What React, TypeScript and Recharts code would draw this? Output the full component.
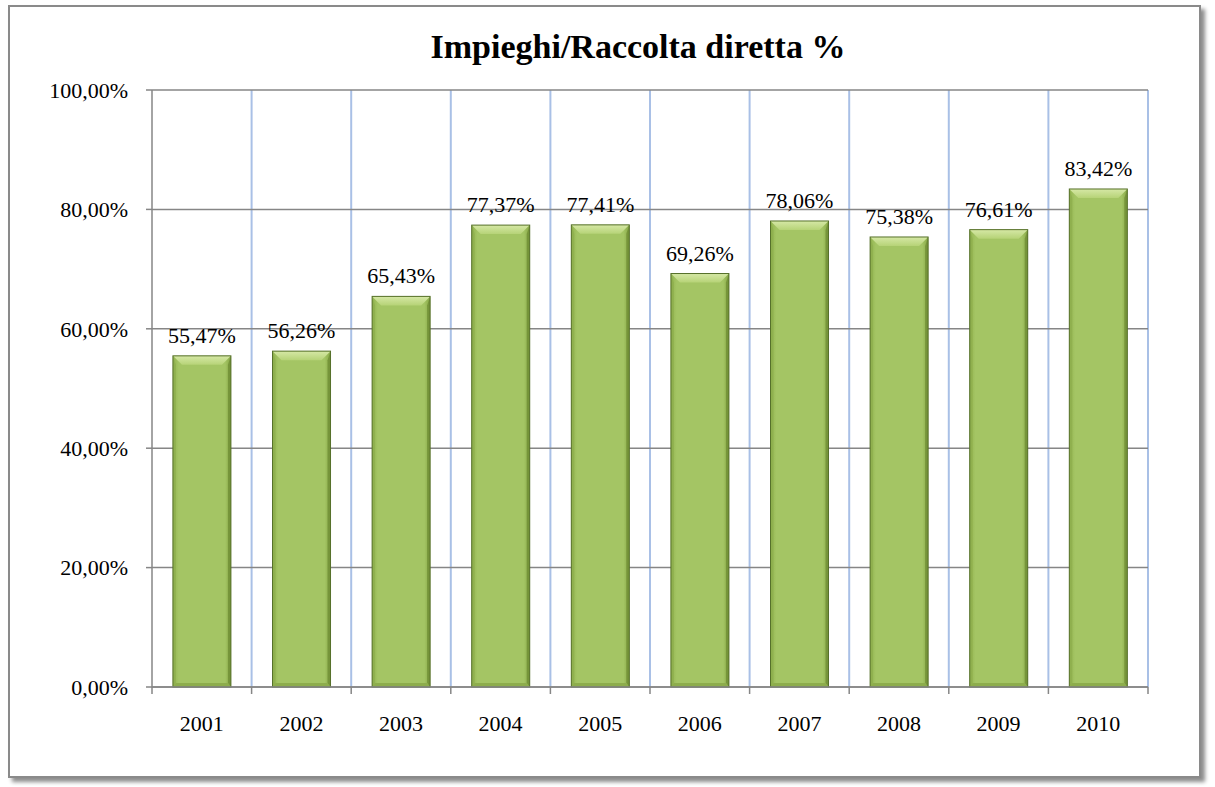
import { BarChart, Bar, XAxis, YAxis, CartesianGrid, LabelList } from "recharts";

const years = ["2001", "2002", "2003", "2004", "2005", "2006", "2007", "2008", "2009", "2010"];
const ratios = [55.47, 56.26, 65.43, 77.37, 77.41, 69.26, 78.06, 75.38, 76.61, 83.42];
const yTicks = [0, 20, 40, 60, 80, 100];

const data = years.map((year, i) => ({ year, value: ratios[i] }));

const FONT = "'Liberation Serif', 'Times New Roman', serif";
const AXIS_GRAY = "#868686";
const GRID_BLUE = "#A9C0E6";

const fmt = (v: number) => v.toFixed(2).replace(".", ",") + "%";

// bevelled bar like the office 3d style
function BevelBar(props: any) {
  const { x, y, width: w, height: h } = props;
  if (!h || h <= 0) return null;
  const b = Math.min(9, h / 2);
  const s = 3;
  return (
    <g>
      <rect x={x} y={y} width={w} height={h} fill="url(#barFace)" />
      <polygon points={`${x},${y} ${x + w},${y} ${x + w - b},${y + b} ${x + b},${y + b}`} fill="url(#barTop)" />
      <polygon points={`${x},${y} ${x + s},${y + b} ${x + s},${y + h - 4} ${x},${y + h}`} fill="#8CAD4B" opacity={0.7} />
      <polygon points={`${x + w},${y} ${x + w - s},${y + b} ${x + w - s},${y + h - 4} ${x + w},${y + h}`} fill="#6F8D34" opacity={0.8} />
      <polygon points={`${x},${y + h} ${x + s},${y + h - 4} ${x + w - s},${y + h - 4} ${x + w},${y + h}`} fill="#8DAD4C" />
      <rect x={x} y={y} width={w} height={h} fill="none" stroke="#56702A" strokeWidth={1} />
    </g>
  );
}

function YearTick(props: any) {
  const { x, y, payload, index } = props;
  const half = payload.offset || 0;
  const axisY = y - 28;
  return (
    <g>
      <line x1={x - half} y1={axisY} x2={x - half} y2={axisY + 7} stroke={AXIS_GRAY} strokeWidth={1.5} />
      {index === years.length - 1 && (
        <line x1={x + half} y1={axisY} x2={x + half} y2={axisY + 7} stroke={AXIS_GRAY} strokeWidth={1.5} />
      )}
      <text x={x} y={y} dy="0.71em" textAnchor="middle" fill="#000" fontSize={22} fontFamily={FONT}>
        {payload.value}
      </text>
    </g>
  );
}

export default function App() {
  return (
    <div style={{ position: "absolute", left: 0, top: 0, width: 1215, height: 787, background: "#fff" }}>
      <div
        style={{
          position: "absolute",
          left: 8,
          top: 5,
          width: 1193,
          height: 773,
          boxSizing: "border-box",
          border: "2px solid #8a8a8a",
          boxShadow: "4px 4px 4px rgba(0,0,0,0.45)",
          background: "#fff",
        }}
      />
      <svg style={{ position: "absolute", left: 0, top: 0 }} width={1215} height={80}>
        <text x={638} y={58} textAnchor="middle" fontFamily={FONT} fontWeight="bold" fontSize={34} fill="#000">
          Impieghi/Raccolta diretta %
        </text>
      </svg>
      <div style={{ position: "absolute", left: 0, top: 0 }}>
        <BarChart
          width={1215}
          height={787}
          data={data}
          margin={{ top: 90, right: 67, bottom: 70, left: 0 }}
          barCategoryGap="21%"
        >
          <defs>
            <linearGradient id="barFace" x1="0" y1="0" x2="1" y2="0">
              <stop offset="0%" stopColor="#93B450" />
              <stop offset="10%" stopColor="#A4C564" />
              <stop offset="90%" stopColor="#A4C564" />
              <stop offset="100%" stopColor="#87A746" />
            </linearGradient>
            <linearGradient id="barTop" x1="0" y1="0" x2="0" y2="1">
              <stop offset="0%" stopColor="#D6E8A6" />
              <stop offset="100%" stopColor="#B6D377" />
            </linearGradient>
          </defs>
          <CartesianGrid horizontal={false} stroke={GRID_BLUE} strokeWidth={2}
            verticalCoordinatesGenerator={({ offset }: any) =>
              years.map((_, i) => offset.left + (offset.width * (i + 1)) / years.length)
            }
          />
          <CartesianGrid vertical={false} stroke={AXIS_GRAY} strokeWidth={1.5} />
          <XAxis
            dataKey="year"
            height={30}
            axisLine={{ stroke: AXIS_GRAY, strokeWidth: 1.5 }}
            tickLine={false}
            tickSize={0}
            tickMargin={28}
            interval={0}
            tick={<YearTick />}
          />
          <YAxis
            width={152}
            domain={[0, 100]}
            ticks={yTicks}
            tickFormatter={fmt}
            axisLine={{ stroke: AXIS_GRAY, strokeWidth: 1.5 }}
            tickLine={{ stroke: AXIS_GRAY, strokeWidth: 1.5 }}
            tickSize={6}
            tickMargin={18}
            tick={{ fill: "#000", fontSize: 22, fontFamily: FONT }}
          />
          <Bar dataKey="value" shape={<BevelBar />} isAnimationActive={false}>
            <LabelList dataKey="value" position="top" offset={13} formatter={(v: any) => fmt(Number(v))}
              fill="#000" fontSize={22} fontFamily={FONT} />
          </Bar>
        </BarChart>
      </div>
    </div>
  );
}
